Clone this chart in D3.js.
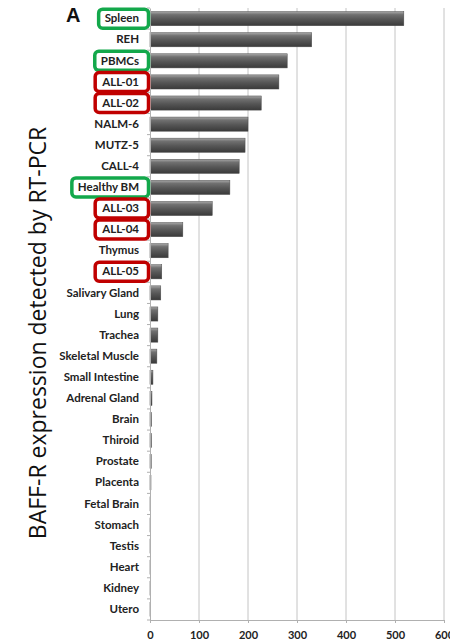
<!DOCTYPE html>
<html><head><meta charset="utf-8">
<script src="https://cdn.jsdelivr.net/npm/d3@7"></script>
<style>body{margin:0;background:#fff}svg{display:block}</style>
</head><body>
<svg id="c" width="450" height="643"></svg>
<script>
const categories = ["Spleen","REH","PBMCs","ALL-01","ALL-02","NALM-6","MUTZ-5","CALL-4","Healthy BM","ALL-03","ALL-04","Thymus","ALL-05","Salivary Gland","Lung","Trachea","Skeletal Muscle","Small Intestine","Adrenal Gland","Brain","Thiroid","Prostate","Placenta","Fetal Brain","Stomach","Testis","Heart","Kidney","Utero"];
const values = [518,330,280,263,227,200,194,182,163,127,67,37,24,22,16,16,14,6,4,3,3,2.5,2,0.5,0.3,0.2,0.2,0.1,0.1];
const greenBoxed = ["Spleen","PBMCs","Healthy BM"];
const redBoxed = ["ALL-01","ALL-02","ALL-03","ALL-04","ALL-05"];
const xTicks = [0,100,200,300,400,500,600];
const yTitle = "BAFF-R expression detected by RT-PCR";
const panelLetter = "A";

(function(){
const svg = d3.select("#c");
const mL = 150, mR = 444, mT = 8, mB = 620;
const x = d3.scaleLinear().domain([0,600]).range([mL,mR]);
const y = d3.scaleBand().domain(categories).range([mT,mB]).paddingInner(0.33).paddingOuter(0.17);

const defs = svg.append("defs");
const g = defs.append("linearGradient").attr("id","bg").attr("x1",0).attr("y1",0).attr("x2",0).attr("y2",1);
[[0,"#a8a8a8"],[0.22,"#707070"],[0.55,"#565656"],[1,"#3a3a3a"]].forEach(([o,c])=>g.append("stop").attr("offset",o).attr("stop-color",c));

svg.append("g").selectAll("line").data(xTicks.slice(1)).join("line")
  .attr("x1",d=>x(d)).attr("x2",d=>x(d)).attr("y1",mT).attr("y2",mB)
  .attr("stroke","#c4c4c4").attr("stroke-width",1);

svg.append("g").selectAll("rect").data(categories).join("rect")
  .attr("x",x(0)).attr("y",d=>y(d))
  .attr("width",(d,i)=>Math.max(0.6,x(values[i])-x(0)))
  .attr("height",y.bandwidth())
  .attr("fill","url(#bg)").attr("stroke","#4a4a4a").attr("stroke-width",0.5);

const xa = svg.append("g").attr("transform",`translate(0,${mB})`)
  .call(d3.axisBottom(x).tickValues(xTicks).tickSize(3).tickPadding(8));
xa.select(".domain").attr("stroke","#b0b0b0");
xa.selectAll(".tick line").attr("stroke","#b0b0b0");
xa.selectAll("text").attr("font-family","Lato, 'Liberation Sans', sans-serif").attr("font-weight","bold").attr("font-size",11).attr("fill","#222");

const ya = svg.append("g").attr("transform",`translate(${mL},0)`)
  .call(d3.axisLeft(y).tickSize(0).tickPadding(11).tickSizeOuter(0));
ya.select(".domain").attr("stroke","#b0b0b0");
ya.selectAll("text").attr("font-family","Lato, 'Liberation Sans', sans-serif").attr("font-weight","bold").attr("font-size",11.5).attr("fill","#222");
svg.append("g").selectAll("line").data(d3.range(categories.length+1)).join("line")
  .attr("x1",mL-3).attr("x2",mL).attr("y1",i=>mT+i*(mB-mT)/categories.length).attr("y2",i=>mT+i*(mB-mT)/categories.length)
  .attr("stroke","#b0b0b0");

ya.selectAll(".tick").each(function(d){
  const isG = greenBoxed.includes(d), isR = redBoxed.includes(d);
  if(!isG && !isR) return;
  const t = d3.select(this).select("text");
  const bb = t.node().getBBox();
  const x0 = Math.min(-51, bb.x-6);
  d3.select(this).insert("rect","text")
    .attr("x",x0).attr("y",-9.5).attr("width",-x0-1.5).attr("height",19)
    .attr("rx",4).attr("fill","#fff")
    .attr("stroke",isG?"#13a84b":"#c00000").attr("stroke-width",3.5);
});

svg.append("text").attr("transform","translate(46,333) rotate(-90)")
  .attr("text-anchor","middle").attr("font-family","'Open Sans', 'Liberation Sans', sans-serif")
  .attr("font-size",23).attr("fill","#111").text(yTitle);

svg.append("text").attr("x",66).attr("y",22).attr("font-family","'Liberation Sans', Arial, sans-serif")
  .attr("font-weight","bold").attr("font-size",20).attr("fill","#111").text(panelLetter);
})();
</script>
</body></html>
